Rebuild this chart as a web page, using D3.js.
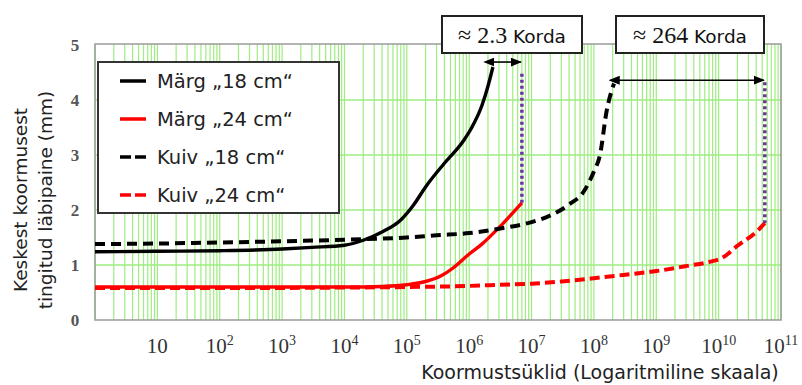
<!DOCTYPE html>
<html>
<head>
<meta charset="utf-8">
<script src="https://cdn.jsdelivr.net/npm/d3@7"></script>
<style>
  html, body { margin: 0; padding: 0; background: #fff; }
  svg { display: block; }
</style>
</head>
<body>
<svg id="chart" width="802" height="385"></svg>
<script>
// Load cycles (x) and mean deflection in mm (y) for each pavement case
const margCycles18 = [1, 10, 100, 1e3, 3e3, 1e4, 2e4, 4e4, 8e4, 1.3e5, 2e5, 4e5, 8e5, 1.1e6, 1.6e6, 2e6, 2.4e6];
const margDefl18   = [1.24, 1.25, 1.26, 1.29, 1.32, 1.36, 1.45, 1.6, 1.82, 2.1, 2.42, 2.85, 3.25, 3.5, 3.9, 4.25, 4.6];

const margCycles24 = [1, 10, 100, 1e3, 1e4, 4e4, 1e5, 2e5, 3.5e5, 5.6e5, 1e6, 1.6e6, 3e6, 7e6];
const margDefl24   = [0.6, 0.6, 0.6, 0.6, 0.6, 0.61, 0.64, 0.7, 0.8, 0.95, 1.2, 1.38, 1.68, 2.13];

const kuivCycles18 = [1, 10, 100, 1e3, 1e4, 1e5, 3e5, 1e6, 3e6, 1e7, 2e7, 4e7, 7e7, 1e8, 1.25e8, 1.6e8, 2.1e8];
const kuivDefl18   = [1.38, 1.39, 1.41, 1.43, 1.46, 1.5, 1.54, 1.58, 1.66, 1.78, 1.9, 2.1, 2.35, 2.7, 3.0, 3.8, 4.3];

const kuivCycles24 = [1, 100, 1e4, 1e5, 1e6, 3e6, 1e7, 3e7, 1e8, 3e8, 1e9, 3e9, 8e9, 1.1e10, 2e10, 4e10, 5.5e10];
const kuivDefl24   = [0.58, 0.58, 0.59, 0.6, 0.62, 0.64, 0.66, 0.7, 0.76, 0.82, 0.89, 0.98, 1.07, 1.12, 1.35, 1.6, 1.76];

const seriesNames = ["Märg „18 cm“", "Märg „24 cm“", "Kuiv „18 cm“", "Kuiv „24 cm“"];

// Axis ticks
const yTicks = [0, 1, 2, 3, 4, 5];
const xTickExponents = [1, 2, 3, 4, 5, 6, 7, 8, 9, 10, 11];

// Ratio annotations: [from cycles, to cycles, arrow level, dotted line bottom, dotted line top]
const ratioFrom   = [2.35e6, 2.4e8];
const ratioTo     = [7e6, 5.5e10];
const ratioLevel  = [4.69, 4.36];
const dropBottom  = [2.13, 1.76];
const dropTop     = [4.52, 4.36];
const ratioValues = ["2.3", "264"];

const svg = d3.select("#chart");
const plot = { left: 95, right: 781, top: 44, bottom: 320 };

const x = d3.scaleLog().domain([1, 1e11]).range([plot.left, plot.right]);
const y = d3.scaleLinear().domain([0, 5]).range([plot.bottom, 45]);

const sans = "'DejaVu Sans', Verdana, sans-serif";
const serif = "'Liberation Serif', 'DejaVu Serif', serif";
const gridGreen = "#9ded7f";

// Vertical log grid (1..9 per decade)
const gridVals = [];
for (let k = 0; k <= 10; k++) for (let m = 1; m <= 9; m++) gridVals.push(m * Math.pow(10, k));
gridVals.push(1e11);

const grid = svg.append("g");
grid.selectAll("line.v").data(gridVals).join("line")
  .attr("x1", d => x(d)).attr("x2", d => x(d))
  .attr("y1", plot.top).attr("y2", plot.bottom)
  .attr("stroke", gridGreen).attr("stroke-width", 1.2);

grid.selectAll("line.h").data(yTicks.filter(t => t > 0 && t < 5)).join("line")
  .attr("x1", plot.left).attr("x2", plot.right)
  .attr("y1", d => y(d)).attr("y2", d => y(d))
  .attr("stroke", gridGreen).attr("stroke-width", 1.3);

// Plot frame
svg.append("rect")
  .attr("x", plot.left).attr("y", plot.top)
  .attr("width", plot.right - plot.left).attr("height", plot.bottom - plot.top)
  .attr("fill", "none").attr("stroke", "#9a9a9a").attr("stroke-width", 1.5);

// Y tick labels
svg.append("g").selectAll("text").data(yTicks).join("text")
  .attr("x", 75).attr("y", d => y(d))
  .attr("dy", "0.35em")
  .attr("text-anchor", "middle")
  .attr("font-family", serif).attr("font-size", 17).attr("font-weight", "bold")
  .attr("fill", "#555")
  .text(d => d);

// X tick labels: 10, 10², ... 10¹¹
const xLab = svg.append("g");
xTickExponents.forEach(e => {
  const t = xLab.append("text")
    .attr("x", x(Math.pow(10, e)))
    .attr("y", 353)
    .attr("text-anchor", "middle")
    .attr("font-family", serif).attr("font-size", 21)
    .attr("fill", "#333");
  t.append("tspan").text("10");
  if (e > 1) {
    t.append("tspan").attr("font-size", 14).attr("dy", -8).text(e);
  }
});

// Axis titles
svg.append("text")
  .attr("x", 600).attr("y", 379)
  .attr("text-anchor", "middle")
  .attr("font-family", sans).attr("font-size", 19)
  .attr("fill", "#222")
  .text("Koormustsüklid (Logaritmiline skaala)");

const yTitle = svg.append("text")
  .attr("transform", "translate(0,200) rotate(-90)")
  .attr("text-anchor", "middle")
  .attr("font-family", sans).attr("font-size", 18.5)
  .attr("fill", "#222");
yTitle.append("tspan").attr("x", 0).attr("y", 27).text("Keskest koormusest");
yTitle.append("tspan").attr("x", 0).attr("y", 52).text("tingitud läbipaine (mm)");

// Curves
const line = d3.line()
  .x(d => x(d[0])).y(d => y(d[1]))
  .curve(d3.curveMonotoneX);

const series = [
  { cycles: kuivCycles24, defl: kuivDefl24, color: "#ff0000", width: 4, dash: "10,5" },
  { cycles: margCycles24, defl: margDefl24, color: "#ff0000", width: 3.4, dash: null },
  { cycles: kuivCycles18, defl: kuivDefl18, color: "#000", width: 4, dash: "10,6" },
  { cycles: margCycles18, defl: margDefl18, color: "#000", width: 3.4, dash: null }
];

const curves = svg.append("g");
series.forEach(s => {
  const pts = d3.zip(s.cycles, s.defl);
  curves.append("path")
    .attr("d", line(pts))
    .attr("fill", "none")
    .attr("stroke", s.color)
    .attr("stroke-width", s.width)
    .attr("stroke-dasharray", s.dash)
    .attr("stroke-linejoin", "round");
});

// Dotted drop lines and ratio arrows
const defs = svg.append("defs");
["start", "end"].forEach(kind => {
  defs.append("marker")
    .attr("id", "arrow-" + kind)
    .attr("viewBox", "0 0 10 10")
    .attr("refX", kind === "end" ? 9 : 1).attr("refY", 5)
    .attr("markerWidth", 7).attr("markerHeight", 7)
    .attr("orient", "auto-start-reverse")
    .append("path").attr("d", "M0,1 L10,5 L0,9 Z").attr("fill", "#000");
});

const ann = svg.append("g");
ratioTo.forEach((to, i) => {
  ann.append("line")
    .attr("x1", x(to)).attr("x2", x(to))
    .attr("y1", y(dropBottom[i])).attr("y2", y(dropTop[i]))
    .attr("stroke", "#7030a0").attr("stroke-width", 3.5)
    .attr("stroke-dasharray", "3,3");
  ann.append("line")
    .attr("x1", x(ratioFrom[i]) + 1).attr("x2", x(to) - 1)
    .attr("y1", y(ratioLevel[i])).attr("y2", y(ratioLevel[i]))
    .attr("stroke", "#000").attr("stroke-width", 1.6)
    .attr("marker-start", "url(#arrow-start)")
    .attr("marker-end", "url(#arrow-end)");
});

// Ratio callout boxes
const boxes = [
  { x0: 442, x1: 582 },
  { x0: 616, x1: 764 }
];
boxes.forEach((b, i) => {
  ann.append("rect")
    .attr("x", b.x0).attr("y", 16)
    .attr("width", b.x1 - b.x0).attr("height", 37)
    .attr("fill", "#fff").attr("stroke", "#222").attr("stroke-width", 2);
  const t = ann.append("text")
    .attr("x", (b.x0 + b.x1) / 2).attr("y", 43)
    .attr("text-anchor", "middle")
    .attr("fill", "#111");
  t.append("tspan").attr("font-family", serif).attr("font-size", 24).text("≈ " + ratioValues[i]);
  t.append("tspan").attr("font-family", sans).attr("font-size", 18.5).text(" Korda");
});

// Legend
const legend = svg.append("g");
legend.append("rect")
  .attr("x", 98).attr("y", 62).attr("width", 241).attr("height", 151)
  .attr("fill", "#fff").attr("stroke", "#333").attr("stroke-width", 2);

const legendStyles = [
  { color: "#000", dash: null },
  { color: "#ff0000", dash: null },
  { color: "#000", dash: "11,4" },
  { color: "#ff0000", dash: "11,4" }
];
seriesNames.forEach((name, i) => {
  const cy = 81 + i * 38;
  legend.append("line")
    .attr("x1", 120).attr("x2", 146)
    .attr("y1", cy).attr("y2", cy)
    .attr("stroke", legendStyles[i].color)
    .attr("stroke-width", 3.5)
    .attr("stroke-dasharray", legendStyles[i].dash);
  legend.append("text")
    .attr("x", 157).attr("y", cy).attr("dy", "0.35em")
    .attr("font-family", sans).attr("font-size", 19.5)
    .attr("fill", "#222")
    .text(name);
});
</script>
</body>
</html>
